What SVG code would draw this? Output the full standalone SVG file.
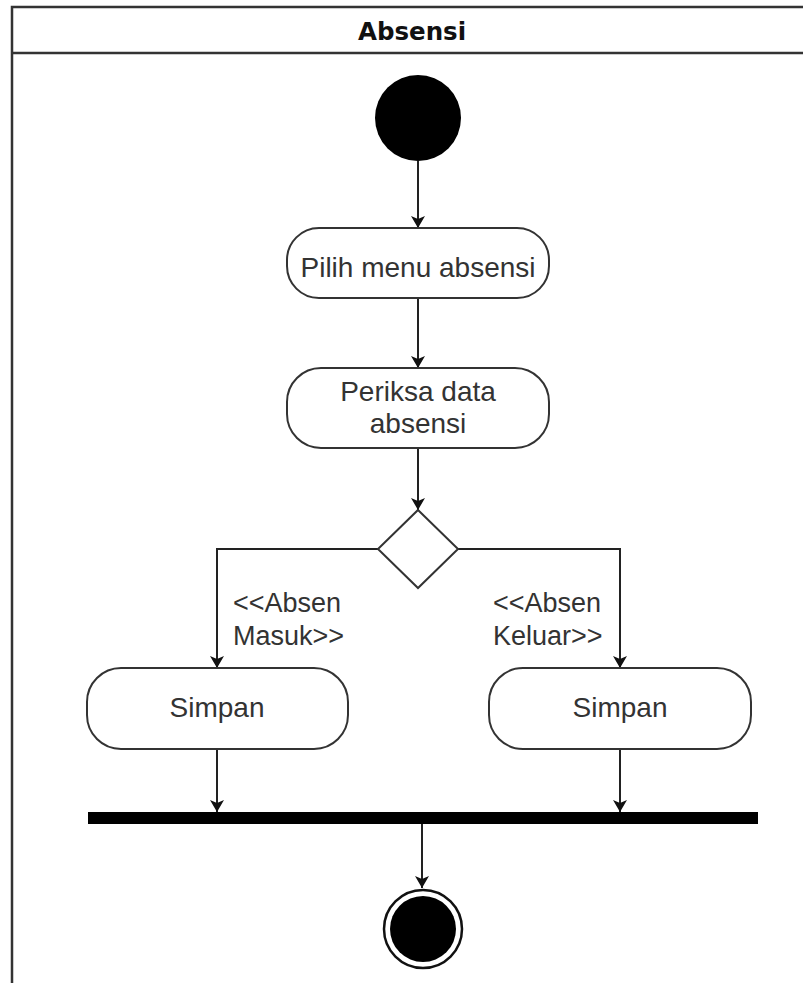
<svg xmlns="http://www.w3.org/2000/svg" width="803" height="983" viewBox="0 0 803 983">
<style>
.frame{fill:#fff;stroke:#333;stroke-width:2.5}
.act{fill:#fff;stroke:#333;stroke-width:2}
.txt{font-family:"Liberation Sans",Arial,sans-serif;font-size:28px;fill:#333;text-anchor:middle}
.lbl{font-family:"Liberation Sans",Arial,sans-serif;font-size:27px;fill:#333}
.title{font-family:"DejaVu Sans",Verdana,sans-serif;font-weight:bold;font-size:24.5px;fill:#111;text-anchor:middle}
.edge{fill:none;stroke:#222;stroke-width:2;marker-end:url(#arr)}
</style>
<defs>
<marker id="arr" viewBox="0 0 12 14" refX="12" refY="7" markerWidth="12" markerHeight="14" markerUnits="userSpaceOnUse" orient="auto">
<path d="M0,0 L12,7 L0,14 L3,7 Z" fill="#111"/>
</marker>
</defs>
<g id="frame">
<rect class="frame" x="12" y="7" width="810" height="990"/>
<line x1="12" y1="53" x2="810" y2="53" stroke="#333" stroke-width="2.5"/>
<text class="title" x="412" y="40">Absensi</text>
</g>
<g id="connectors">
<path class="edge" d="M418,161 L418,228"/>
<path class="edge" d="M418,298 L418,368"/>
<path class="edge" d="M418,448 L418,510" stroke-width="3"/>
<path class="edge" d="M378,549 L217,549 L217,668"/>
<path class="edge" d="M458,549 L620,549 L620,668"/>
<path class="edge" d="M217,749 L217,812"/>
<path class="edge" d="M620,749 L620,812"/>
<path class="edge" d="M422,824 L422,888"/>
<text class="lbl" x="233" y="612">&lt;&lt;Absen</text>
<text class="lbl" x="233" y="645">Masuk&gt;&gt;</text>
<text class="lbl" x="493" y="612">&lt;&lt;Absen</text>
<text class="lbl" x="493" y="645">Keluar&gt;&gt;</text>
</g>
<g id="start">
<circle cx="418" cy="118" r="43" fill="#000"/>
</g>
<g id="pilih">
<rect class="act" x="287" y="228" width="262" height="70" rx="32"/>
<text class="txt" x="418" y="277">Pilih menu absensi</text>
</g>
<g id="periksa">
<rect class="act" x="287" y="368" width="262" height="80" rx="34"/>
<text class="txt" x="418" y="401">Periksa data</text>
<text class="txt" x="418" y="433">absensi</text>
</g>
<g id="decision">
<polygon class="act" points="418,510 458,549 418,588 378,549"/>
</g>
<g id="simpan1">
<rect class="act" x="87" y="668" width="261" height="81" rx="34"/>
<text class="txt" x="217" y="717">Simpan</text>
</g>
<g id="simpan2">
<rect class="act" x="489" y="668" width="262" height="81" rx="34"/>
<text class="txt" x="620" y="717">Simpan</text>
</g>
<g id="join">
<rect x="88" y="812" width="670" height="12" fill="#000"/>
</g>
<g id="end">
<circle cx="423" cy="929" r="39" fill="#fff" stroke="#111" stroke-width="2.5"/>
<circle cx="423" cy="929" r="33" fill="#000"/>
</g>
</svg>
